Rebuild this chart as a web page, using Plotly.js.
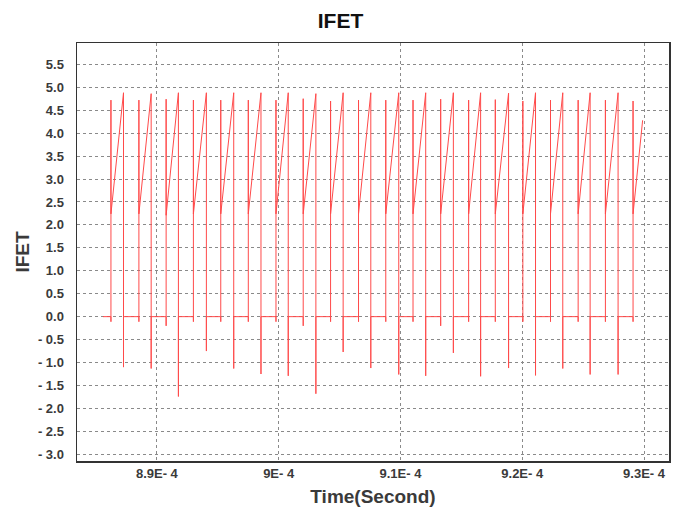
<!DOCTYPE html>
<html>
<head>
<meta charset="utf-8">
<script src="https://cdn.plot.ly/plotly-3.0.1.min.js"></script>
<style>html,body{margin:0;padding:0;background:#fff;}#chart{width:681px;height:512px;}</style>
</head>
<body>
<div id="chart"></div>
<script>
// Data (time in seconds, current in A)
const tStart = 8.85574e-4;
const tOn = [8.86230e-4, 8.88525e-4, 8.90762e-4, 8.93000e-4, 8.95246e-4, 8.97508e-4, 8.99779e-4,
             9.02016e-4, 9.04262e-4, 9.06557e-4, 9.08795e-4, 9.11033e-4, 9.13303e-4, 9.15598e-4,
             9.17787e-4, 9.20049e-4, 9.22320e-4, 9.24590e-4, 9.26828e-4, 9.29098e-4];
const dipOn = [-0.11, -0.11, -0.20, -0.11, -0.11, -0.11, -0.11, -0.20, -0.11, -0.11,
               -0.11, -0.11, -0.20, -0.11, -0.11, -0.11, -0.11, -0.11, -0.11, -0.11];
const peakOn = [4.72, 4.72, 4.74, 4.72, 4.72, 4.72, 4.72, 4.75, 4.70, 4.72,
                4.72, 4.72, 4.74, 4.72, 4.73, 4.70, 4.72, 4.72, 4.72, 4.70];
const valley = [2.24, 2.24, 2.21, 2.24, 2.24, 2.24, 2.24, 2.24, 2.24, 2.24,
                2.24, 2.24, 2.24, 2.24, 2.24, 2.24, 2.24, 2.24, 2.24, 2.24];
const tOff = [8.87262e-4, 8.89533e-4, 8.91770e-4, 8.94066e-4, 8.96311e-4, 8.98549e-4, 9.00787e-4,
              9.03057e-4, 9.05295e-4, 9.07566e-4, 9.09861e-4, 9.12074e-4, 9.14344e-4, 9.16582e-4,
              9.18877e-4, 9.21090e-4, 9.23328e-4, 9.25574e-4, 9.27869e-4, 9.29885e-4];
const peakOff = [4.88, 4.86, 4.88, 4.88, 4.88, 4.88, 4.88, 4.86, 4.88, 4.88,
                 4.88, 4.88, 4.88, 4.88, 4.87, 4.88, 4.88, 4.88, 4.88, 4.28];
const spikeOff = [-1.10, -1.13, -1.74, -0.75, -1.13, -1.25, -1.29, -1.68, -0.77, -1.12,
                  -1.26, -1.29, -0.79, -1.30, -1.12, -1.28, -1.13, -1.26, -1.26, null];

const xTickVals = [8.9e-4, 9.0e-4, 9.1e-4, 9.2e-4, 9.3e-4];
const xTickText = ['8.9E- 4', '9E- 4', '9.1E- 4', '9.2E- 4', '9.3E- 4'];
const yTickVals = [5.5, 5.0, 4.5, 4.0, 3.5, 3.0, 2.5, 2.0, 1.5, 1.0, 0.5, 0.0,
                   -0.5, -1.0, -1.5, -2.0, -2.5, -3.0];
const yTickText = ['5.5', '5.0', '4.5', '4.0', '3.5', '3.0', '2.5', '2.0', '1.5', '1.0', '0.5', '0.0',
                   '- 0.5', '- 1.0', '- 1.5', '- 2.0', '- 2.5', '- 3.0'];

// Build the waveform from the read values
const xs = [tStart], ys = [0];
for (let i = 0; i < tOn.length; i++) {
  xs.push(tOn[i], tOn[i], tOn[i], tOn[i]);
  ys.push(0, dipOn[i], peakOn[i], valley[i]);
  xs.push(tOff[i]);
  ys.push(peakOff[i]);
  if (spikeOff[i] !== null) {
    xs.push(tOff[i], tOff[i]);
    ys.push(spikeOff[i], 0);
  }
}

const tickFont = {family: 'Liberation Sans, Arial, sans-serif', size: 13, color: '#3a3a3a', weight: 'bold'};
const axisCommon = {
  showgrid: true, gridcolor: '#8a8a8a', griddash: 'dot', gridwidth: 1,
  showline: true, mirror: true, linecolor: '#333', linewidth: 1.5,
  zeroline: false, ticks: '', tickfont: tickFont, tickmode: 'array'
};

const trace = {x: xs, y: ys, type: 'scatter', mode: 'lines',
  line: {color: '#ff4a4a', width: 1}, hoverinfo: 'skip'};

const layout = {
  width: 681, height: 512,
  margin: {l: 77, r: 12, t: 43, b: 51},
  paper_bgcolor: '#fff', plot_bgcolor: '#fff',
  showlegend: false,
  title: {text: 'IFET', x: 0.5, xanchor: 'center', y: 0.96, yanchor: 'middle',
    font: {family: 'Liberation Sans, Arial, sans-serif', size: 21, color: '#111', weight: 'bold'}},
  xaxis: Object.assign({}, axisCommon, {
    range: [8.83443e-4, 9.32049e-4], tickvals: xTickVals, ticktext: xTickText,
    title: {text: 'Time(Second)', standoff: 9,
      font: {family: 'Liberation Sans, Arial, sans-serif', size: 19, color: '#3a3a3a', weight: 'bold'}}
  }),
  yaxis: Object.assign({}, axisCommon, {
    range: [-3.146, 5.964], tickvals: yTickVals, ticktext: yTickText, ticklabelstandoff: 9,
    title: {text: 'IFET', standoff: 3,
      font: {family: 'Liberation Sans, Arial, sans-serif', size: 19, color: '#3a3a3a', weight: 'bold'}}
  })
};

Plotly.newPlot('chart', [trace], layout, {staticPlot: true, displayModeBar: false});
</script>
</body>
</html>
